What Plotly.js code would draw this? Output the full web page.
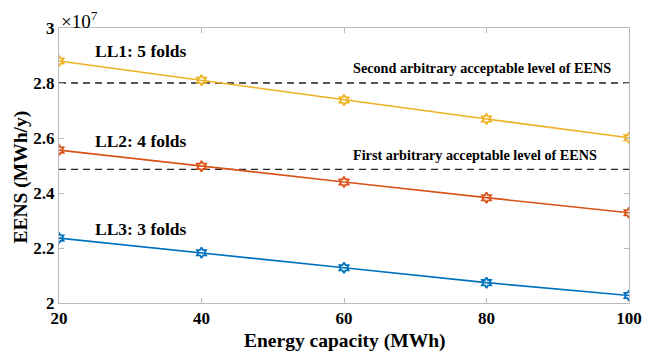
<!DOCTYPE html>
<html>
<head>
<meta charset="utf-8">
<script src="https://cdn.plot.ly/plotly-3.0.1.min.js"></script>
<style>
  html, body { margin: 0; padding: 0; background: #fff; }
  #chart { width: 657px; height: 352px; }
</style>
</head>
<body>
<div id="chart"></div>
<script>
// Energy capacity of storage (MWh)
const capacity = [20, 40, 60, 80, 100];

// EENS (x 10^7 MWh/y) for each load level
const eensLL1 = [2.880, 2.810, 2.738, 2.669, 2.601];
const eensLL2 = [2.556, 2.497, 2.440, 2.383, 2.328];
const eensLL3 = [2.236, 2.183, 2.128, 2.074, 2.027];

// Acceptable EENS levels (x 10^7 MWh/y)
const firstLevel = 2.486;
const secondLevel = 2.80;

const seriesNames = ['LL1: 5 folds', 'LL2: 4 folds', 'LL3: 3 folds'];
const levelNames = ['First arbitrary acceptable level of EENS', 'Second arbitrary acceptable level of EENS'];
const xTitle = 'Energy capacity (MWh)';
const yTitle = 'EENS (MWh/y)';

const xTicks = [20, 40, 60, 80, 100];
const yTicks = [2, 2.2, 2.4, 2.6, 2.8, 3];
const yTickText = ['2', '2.2', '2.4', '2.6', '2.8', '3'];

const serif = '"Times New Roman", "Liberation Serif", serif';
const bold = s => '<b>' + s + '</b>';

function series(y, color, name) {
  return {
    x: capacity, y: y, name: name, type: 'scatter', mode: 'lines+markers',
    line: { color: color, width: 1.6 },
    marker: { symbol: 'hexagram-open', size: 8, color: color, line: { width: 1.8, color: color } },
    showlegend: false, hoverinfo: 'skip'
  };
}

function level(y, name) {
  return {
    x: [capacity[0], capacity[capacity.length - 1]], y: [y, y], name: name,
    type: 'scatter', mode: 'lines',
    line: { color: '#222', width: 1.3, dash: '7px,5px' },
    showlegend: false, hoverinfo: 'skip'
  };
}

const data = [
  level(secondLevel, levelNames[1]),
  level(firstLevel, levelNames[0]),
  series(eensLL1, '#EDB120', seriesNames[0]),
  series(eensLL2, '#D95319', seriesNames[1]),
  series(eensLL3, '#0072BD', seriesNames[2])
];

const labelFont = { family: serif, size: 17.5, color: '#000' };
const noteFont = { family: serif, size: 14.2, color: '#000' };
const titleFont = { family: serif, size: 19.5, color: '#000' };

const layout = {
  width: 657, height: 352,
  margin: { l: 59, r: 28, t: 28, b: 49 },
  paper_bgcolor: '#fff', plot_bgcolor: '#fff',
  font: { family: serif, size: 16, color: '#000' },
  xaxis: {
    range: [20, 100], tickvals: xTicks, ticktext: xTicks.map(v => bold(v)), ticks: 'inside', ticklen: 5,
    tickcolor: '#bbb', showline: true, linecolor: '#bbb', linewidth: 1, mirror: 'ticks',
    showgrid: false, zeroline: false,
    tickfont: { family: serif, size: 17, color: '#000' }
  },
  yaxis: {
    range: [2, 3], tickvals: yTicks, ticktext: yTickText.map(bold), ticks: 'inside', ticklen: 5,
    tickcolor: '#bbb', showline: true, linecolor: '#bbb', linewidth: 1, mirror: 'ticks',
    showgrid: false, zeroline: false,
    tickfont: { family: serif, size: 17, color: '#000' }
  },
  annotations: [
    // axis titles
    { xref: 'paper', yref: 'paper', x: 0.5, y: -0.138, xanchor: 'center', yanchor: 'middle',
      text: bold(xTitle), showarrow: false, font: titleFont },
    { xref: 'paper', yref: 'paper', x: -0.0667, y: 0.46, xanchor: 'center', yanchor: 'middle', textangle: -90,
      text: bold(yTitle), showarrow: false, font: titleFont },
    // axis exponent
    { xref: 'paper', yref: 'paper', x: 0, y: 1, xanchor: 'left', yanchor: 'bottom', xshift: 0, yshift: -6,
      text: '×10<sup>7</sup>', showarrow: false, font: { family: serif, size: 19, color: '#000' } },
    // load level labels
    { xref: 'x', yref: 'y', x: 24.8, y: 2.915, xanchor: 'left', yanchor: 'middle',
      text: bold(seriesNames[0]), showarrow: false, font: labelFont },
    { xref: 'x', yref: 'y', x: 24.8, y: 2.59, xanchor: 'left', yanchor: 'middle',
      text: bold(seriesNames[1]), showarrow: false, font: labelFont },
    { xref: 'x', yref: 'y', x: 24.8, y: 2.27, xanchor: 'left', yanchor: 'middle',
      text: bold(seriesNames[2]), showarrow: false, font: labelFont },
    // acceptable level notes
    { xref: 'x', yref: 'y', x: 61, y: 2.855, xanchor: 'left', yanchor: 'middle',
      text: bold(levelNames[1]), showarrow: false, font: noteFont },
    { xref: 'x', yref: 'y', x: 61, y: 2.538, xanchor: 'left', yanchor: 'middle',
      text: bold(levelNames[0]), showarrow: false, font: noteFont }
  ]
};

Plotly.newPlot('chart', data, layout, { staticPlot: true, displayModeBar: false });
</script>
</body>
</html>
